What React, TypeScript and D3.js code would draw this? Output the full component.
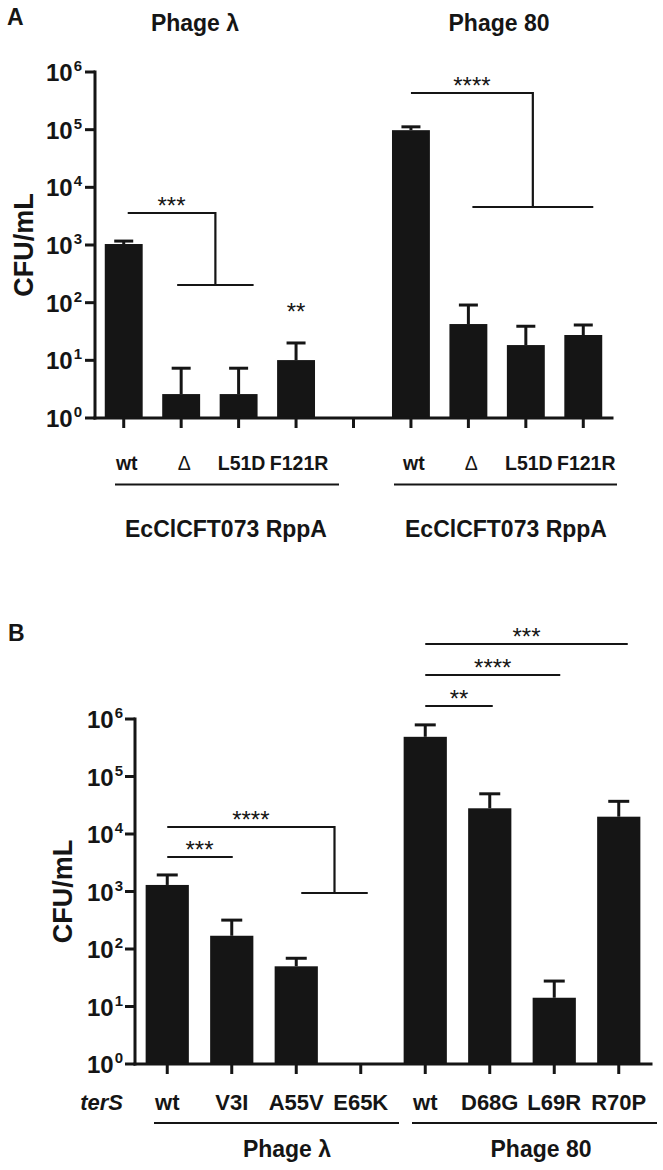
import { useEffect, useRef } from "react";
import * as d3 from "d3";

// Panel A - RppA variants, challenged with phage λ and phage 80 (blank slot between groups)
const labelsA = ["wt", "Δ", "L51D", "F121R", "", "wt", "Δ", "L51D", "F121R"];
const meansA = [1040, 2.6, 2.6, 10.1, 0, 98000, 42.6, 18.4, 27.5];
const upperA = [1170, 7.3, 7.3, 20, 0, 112000, 91, 39, 41];
const titlesA = ["Phage λ", "Phage 80"];
const groupsA = ["EcClCFT073 RppA", "EcClCFT073 RppA"];

// Panel B - terS mutants
const labelsB = ["wt", "V3I", "A55V", "E65K", "wt", "D68G", "L69R", "R70P"];
const meansB = [1300, 170, 50, 0, 490000, 28000, 14.2, 20000];
const upperB = [1940, 318, 69, 0, 790000, 50000, 27.7, 37000];
const groupsB = ["Phage λ", "Phage 80"];

const yTicks = [1, 10, 100, 1000, 1e4, 1e5, 1e6];

const FONT = "'Liberation Sans', Arial, Helvetica, sans-serif";
const INK = "#151515";

function drawPanel(svg, labels, means, upper, xRange, yRange, o) {
  const x = d3.scaleBand().domain(d3.range(labels.length)).range(xRange).paddingInner(o.pad).paddingOuter(o.pad / 2);
  const y = d3.scaleLog().domain([1, 1e6]).range(yRange);
  const cx = (i) => x(i) + x.bandwidth() / 2;
  const base = y(1);
  const g = svg.append("g");
  const idx = d3.range(labels.length).filter((i) => means[i] > 1);

  g.selectAll(".bar").data(idx).enter().append("rect").attr("class", "bar")
    .attr("x", (i) => x(i)).attr("y", (i) => y(means[i]))
    .attr("width", x.bandwidth()).attr("height", (i) => base - y(means[i]))
    .attr("fill", INK);

  // upper error bars only
  g.selectAll(".err").data(idx).enter().append("line").attr("class", "err")
    .attr("x1", cx).attr("x2", cx).attr("y1", (i) => y(means[i])).attr("y2", (i) => y(upper[i]))
    .attr("stroke", INK).attr("stroke-width", 3);
  g.selectAll(".cap").data(idx).enter().append("line").attr("class", "cap")
    .attr("x1", (i) => cx(i) - o.cap / 2).attr("x2", (i) => cx(i) + o.cap / 2)
    .attr("y1", (i) => y(upper[i])).attr("y2", (i) => y(upper[i]))
    .attr("stroke", INK).attr("stroke-width", 3);

  // y axis
  g.append("line").attr("x1", xRange[0]).attr("x2", xRange[0]).attr("y1", base).attr("y2", y(1e6))
    .attr("stroke", INK).attr("stroke-width", 3).attr("stroke-linecap", "square");
  g.selectAll(".ytk").data(yTicks).enter().append("line").attr("class", "ytk")
    .attr("x1", xRange[0] - 10).attr("x2", xRange[0]).attr("y1", (d) => y(d)).attr("y2", (d) => y(d))
    .attr("stroke", INK).attr("stroke-width", 3);
  const tl = g.selectAll(".ylab").data(yTicks).enter().append("text").attr("class", "ylab")
    .attr("x", xRange[0] - o.tickGap).attr("y", (d) => y(d) + 9)
    .attr("text-anchor", "end").attr("font-family", FONT).attr("font-weight", "bold")
    .attr("font-size", 24).attr("fill", INK);
  tl.append("tspan").text("10");
  tl.append("tspan").attr("dx", 1).attr("dy", -10).attr("font-size", 15).text((d) => Math.round(Math.log10(d)));

  // x axis
  g.append("line").attr("x1", xRange[0]).attr("x2", xRange[1]).attr("y1", base).attr("y2", base)
    .attr("stroke", INK).attr("stroke-width", 3).attr("stroke-linecap", "square");
  g.selectAll(".xtk").data(d3.range(labels.length)).enter().append("line").attr("class", "xtk")
    .attr("x1", cx).attr("x2", cx).attr("y1", base).attr("y2", base + 10)
    .attr("stroke", INK).attr("stroke-width", 3);
  g.selectAll(".xlab").data(d3.range(labels.length)).enter().append("text").attr("class", "xlab")
    .attr("x", (i) => cx(i) + o.labDx).attr("y", o.labY)
    .attr("text-anchor", "middle").attr("font-family", FONT)
    .attr("font-weight", (i) => (labels[i] === "Δ" ? "normal" : "bold"))
    .attr("font-size", o.labSize).attr("fill", INK).text((i) => labels[i]);

  // axis title
  g.append("text").attr("transform", `translate(${o.titleX}, ${(yRange[0] + yRange[1]) / 2}) rotate(-90)`)
    .attr("text-anchor", "middle").attr("font-family", FONT).attr("font-weight", "bold")
    .attr("font-size", 27).attr("fill", INK).text("CFU/mL");

  return { g, cx };
}

function txt(g, x, y, s, size, opts = {}) {
  return g.append("text").attr("x", x).attr("y", y).attr("text-anchor", opts.anchor || "middle")
    .attr("font-family", FONT).attr("font-weight", opts.weight || "bold")
    .attr("font-style", opts.style || "normal").attr("font-size", size).attr("fill", INK).text(s);
}

function hline(g, x1, x2, y, w = 2.2) {
  g.append("line").attr("x1", x1).attr("x2", x2).attr("y1", y).attr("y2", y)
    .attr("stroke", INK).attr("stroke-width", w);
}

function stars(g, x, y, s) {
  txt(g, x, y + 1, s, 24, { weight: "normal" });
}

// bracket: top line from xa to the vertical, down to a second line spanning lx1..lx2
function bracket(g, xa, yTop, lx1, lx2, yBot, label) {
  const xv = (lx1 + lx2) / 2;
  g.append("path").attr("d", `M${xa},${yTop}H${xv}V${yBot}`).attr("fill", "none")
    .attr("stroke", INK).attr("stroke-width", 2.2);
  hline(g, lx1, lx2, yBot);
  stars(g, (xa + xv) / 2, yTop, label);
}

const App = () => {
  const svgRef = useRef(null);

  useEffect(() => {
    const svg = d3.select(svgRef.current);
    svg.selectAll("*").remove();

    // ---- Panel A ----
    const A = drawPanel(svg, labelsA, meansA, upperA, [95, 612], [418, 72], {
      pad: 0.34, cap: 19, tickGap: 13, labY: 470, labSize: 19.5, labDx: 3, titleX: 33,
    });
    txt(svg, 7, 25, "A", 23, { anchor: "start" });
    txt(svg, 195, 31, titlesA[0], 23);
    txt(svg, 499, 31, titlesA[1], 23);
    hline(svg, 115, 339, 484.5, 2.2);
    hline(svg, 394, 617, 484.5, 2.2);
    txt(svg, 226, 537, groupsA[0], 23);
    txt(svg, 506, 537, groupsA[1], 23);

    bracket(A.g, A.cx(0) + 4, 213, A.cx(1) - 4, A.cx(2) + 15, 285, "***");
    stars(A.g, A.cx(3), 319, "**");
    bracket(A.g, A.cx(5), 93, A.cx(6) + 4, A.cx(8) + 10, 207, "****");

    // ---- Panel B ----
    const B = drawPanel(svg, labelsB, meansB, upperB, [135, 651], [1064, 719], {
      pad: 0.33, cap: 21, tickGap: 12, labY: 1110, labSize: 22, labDx: 0, titleX: 72,
    });
    txt(svg, 8, 641, "B", 23, { anchor: "start" });
    txt(svg, 123, 1110, "terS", 22, { anchor: "end", style: "italic" });
    hline(svg, 154, 399, 1123, 2.2);
    hline(svg, 412, 657, 1123, 2.2);
    txt(svg, 287, 1157, groupsB[0], 23);
    txt(svg, 541, 1157, groupsB[1], 23);

    hline(B.g, B.cx(0), B.cx(1) + 1, 857);
    stars(B.g, (B.cx(0) + B.cx(1)) / 2, 857, "***");
    bracket(B.g, B.cx(0), 827, B.cx(2) + 5, B.cx(3) + 7, 893, "****");

    hline(B.g, B.cx(4), B.cx(5) + 3, 706);
    stars(B.g, (B.cx(4) + B.cx(5) + 3) / 2, 706, "**");
    hline(B.g, B.cx(4), B.cx(6) + 6, 675);
    stars(B.g, (B.cx(4) + B.cx(6) + 6) / 2, 675, "****");
    hline(B.g, B.cx(4), B.cx(7) + 9, 644);
    stars(B.g, (B.cx(4) + B.cx(7) + 9) / 2, 644, "***");
  }, []);

  return (
    <svg ref={svgRef} width={663} height={1170}
      style={{ position: "absolute", left: 0, top: 0, background: "#fff" }} />
  );
};

export default App;
